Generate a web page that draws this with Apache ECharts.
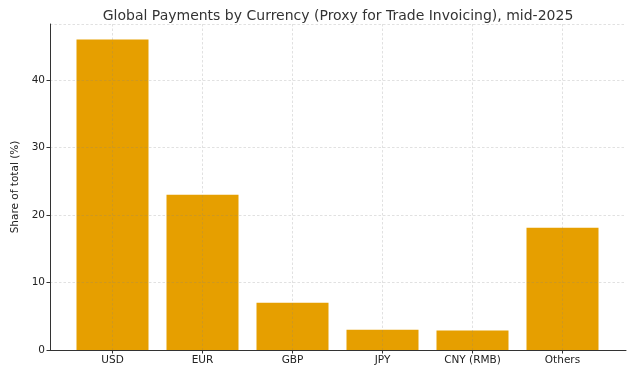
<!DOCTYPE html>
<html><head><meta charset="utf-8">
<script src="https://cdn.jsdelivr.net/npm/echarts@6/dist/echarts.min.js"></script>
<style>html,body{margin:0;padding:0;background:#fff}#c{width:634px;height:372px}</style>
</head><body><div id="c"></div>
<script>
var categories = ["USD", "EUR", "GBP", "JPY", "CNY (RMB)", "Others"];
var shares = [46.0, 23.0, 7.0, 3.0, 2.9, 18.1];
var yTicks = [0, 10, 20, 30, 40];

var FONT = "DejaVu Sans";
var chart = echarts.init(document.getElementById('c'), null, {renderer: 'canvas'});
var yMax = 48.3;
var gridLine = {show: true, lineStyle: {color: 'rgba(128,128,128,0.3)', type: [2.5, 2], width: 0.8}};
var option = {
  animation: false,
  backgroundColor: '#fff',
  title: {
    text: 'Global Payments by Currency (Proxy for Trade Invoicing), mid-2025',
    left: 333, top: 4, textAlign: 'center',
    textStyle: {fontFamily: FONT, fontSize: 14, fontWeight: 'normal', color: '#333'}
  },
  grid: [
    {left: 50, right: 8, top: 24, bottom: 22},
    {left: 112.5, right: 71.5, top: 24, bottom: 22}
  ],
  xAxis: [
    {gridIndex: 0, type: 'value', min: 0, max: 1, z: 3,
     axisLine: {show: true, lineStyle: {color: '#333', width: 1}},
     axisTick: {show: false}, axisLabel: {show: false}, splitLine: {show: false}},
    {gridIndex: 1, type: 'category', data: categories, boundaryGap: false, z: 3,
     axisLine: {show: false},
     axisTick: {show: true, length: 3.5, inside: false, lineStyle: {color: '#333'}},
     axisLabel: {fontFamily: FONT, fontSize: 10.5, color: '#222', margin: 5, interval: 0},
     splitLine: gridLine}
  ],
  yAxis: [
    {gridIndex: 0, type: 'value', min: 0, max: yMax, interval: 10, z: 3,
     name: 'Share of total (%)', nameLocation: 'middle', nameGap: 17, nameRotate: 90,
     nameTextStyle: {fontFamily: FONT, fontSize: 10.5, color: '#222'},
     axisLine: {show: true, lineStyle: {color: '#333', width: 1}},
     axisTick: {show: true, length: 3.5, lineStyle: {color: '#333'}},
     axisLabel: {fontFamily: FONT, fontSize: 10.5, color: '#222', margin: 5,
       showMaxLabel: false,
       formatter: function (v) { return yTicks.indexOf(v) >= 0 ? String(v) : ''; }},
     splitLine: gridLine},
    {gridIndex: 1, type: 'value', min: 0, max: yMax, show: false, splitLine: {show: false}}
  ],
  series: [{
    type: 'bar', xAxisIndex: 1, yAxisIndex: 1, data: shares, barWidth: '80%',
    clip: false, z: 2,
    itemStyle: {color: '#E69F00'}
  }]
};
chart.setOption(option);
</script></body></html>
